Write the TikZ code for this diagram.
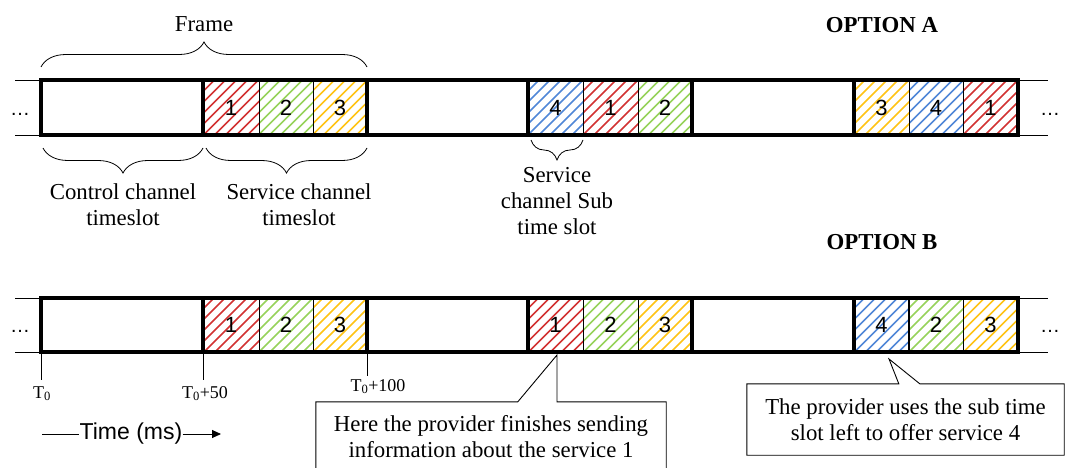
\documentclass[tikz,border=0pt]{standalone}
\usepackage{fontspec}
\setmainfont{Liberation Serif}
\newfontfamily\arialf{Liberation Sans}
\usetikzlibrary{decorations.pathreplacing,calc,arrows.meta}
\definecolor{hred}{RGB}{210,50,50}
\definecolor{hgreen}{RGB}{150,210,90}
\definecolor{hyellow}{RGB}{255,195,20}
\definecolor{hblue}{RGB}{80,135,215}
\tikzset{
  slotbase/.style={rectangle, draw=black, line width=0.9pt, inner sep=0pt, outer sep=0pt, anchor=west, font=\arialf\fontsize{22}{22}\selectfont},
  rowa/.style={minimum height=55pt},
  rowb/.style={minimum height=54pt},
  hatch/.style={path picture={\foreach \k in {-7,...,7}{\draw[#1,line width=1.5pt] ($(path picture bounding box.center)+(\k*11-40,40)$) -- ++(80,-80);}}},
  frameline/.style={line width=3.8pt},
  thinline/.style={line width=0.9pt},
  curly/.style={decorate, decoration={brace, amplitude=#1}, line width=0.8pt},
  lbl/.style={align=center, inner sep=0pt, font=\fontsize{22.8}{26}\selectfont},
  tlbl/.style={anchor=base, inner sep=0pt, font=\fontsize{18}{20}\selectfont},
  opt/.style={anchor=base, inner sep=0pt, font=\bfseries\fontsize{22.8}{26}\selectfont},
  dotsl/.style={inner sep=0pt, font=\arialf\fontsize{20}{20}\selectfont},
}
\begin{document}
\begin{tikzpicture}[x=1pt,y=-1pt]
\useasboundingbox (0,0) rectangle (1065,468);
\clip (0,0) rectangle (1065,468);

% ---------- Row A ----------
\node[slotbase,rowa,minimum width=162pt] (ac1) at (41,107.5) {};
\node[slotbase,rowa,minimum width=56pt,hatch=hred] (as1) at (203,107.5) {1};
\node[slotbase,rowa,minimum width=54pt,hatch=hgreen] (as2) at (259,107.5) {2};
\node[slotbase,rowa,minimum width=54pt,hatch=hyellow] (as3) at (313,107.5) {3};
\node[slotbase,rowa,minimum width=161pt] (ac2) at (367,107.5) {};
\node[slotbase,rowa,minimum width=55pt,hatch=hblue] (as4) at (528,107.5) {4};
\node[slotbase,rowa,minimum width=55pt,hatch=hred] (as5) at (583,107.5) {1};
\node[slotbase,rowa,minimum width=54pt,hatch=hgreen] (as6) at (638,107.5) {2};
\node[slotbase,rowa,minimum width=162pt] (ac3) at (692,107.5) {};
\node[slotbase,rowa,minimum width=55pt,hatch=hyellow] (as7) at (854,107.5) {3};
\node[slotbase,rowa,minimum width=54pt,hatch=hblue] (as8) at (909,107.5) {4};
\node[slotbase,rowa,minimum width=55pt,hatch=hred] (as9) at (963,107.5) {1};

\draw[frameline] (ac1.north west) rectangle (as9.south east);
\foreach \n in {ac1,ac2,ac3} {\draw[frameline] (\n.north east) -- (\n.south east);}
\foreach \n in {ac2,ac3} {\draw[frameline] (\n.north west) -- (\n.south west);}
\draw[thinline] (ac1.north west) -- ++(-26,0);
\draw[thinline] (ac1.south west) -- ++(-26,0);
\draw[thinline] (as9.north east) -- ++(30,0);
\draw[thinline] (as9.south east) -- ++(30,0);
\node[dotsl] (dotsA1) at (20,114) {\dots};
\node[dotsl] (dotsA2) at (1050,114) {\dots};

% ---------- Row B ----------
\node[slotbase,rowb,minimum width=162pt] (bc1) at (41,325) {};
\node[slotbase,rowb,minimum width=56pt,hatch=hred] (bs1) at (203,325) {1};
\node[slotbase,rowb,minimum width=54pt,hatch=hgreen] (bs2) at (259,325) {2};
\node[slotbase,rowb,minimum width=54pt,hatch=hyellow] (bs3) at (313,325) {3};
\node[slotbase,rowb,minimum width=161pt] (bc2) at (367,325) {};
\node[slotbase,rowb,minimum width=55pt,hatch=hred] (bs4) at (528,325) {1};
\node[slotbase,rowb,minimum width=55pt,hatch=hgreen] (bs5) at (583,325) {2};
\node[slotbase,rowb,minimum width=54pt,hatch=hyellow] (bs6) at (638,325) {3};
\node[slotbase,rowb,minimum width=162pt] (bc3) at (692,325) {};
\node[slotbase,rowb,minimum width=55pt,hatch=hblue,line width=2pt] (bs7) at (854,325) {4};
\node[slotbase,rowb,minimum width=54pt,hatch=hgreen] (bs8) at (909,325) {2};
\node[slotbase,rowb,minimum width=55pt,hatch=hyellow] (bs9) at (963,325) {3};

\draw[frameline] (bc1.north west) rectangle (bs9.south east);
\foreach \n in {bc1,bc2,bc3} {\draw[frameline] (\n.north east) -- (\n.south east);}
\foreach \n in {bc2,bc3} {\draw[frameline] (\n.north west) -- (\n.south west);}
\draw[thinline] (bc1.north west) -- ++(-26,0);
\draw[thinline] (bc1.south west) -- ++(-26,0);
\draw[thinline] (bs9.north east) -- ++(30,0);
\draw[thinline] (bs9.south east) -- ++(30,0);
\node[dotsl] (dotsB1) at (20,331) {\dots};
\node[dotsl] (dotsB2) at (1050,331) {\dots};

% ---------- Braces and labels ----------
\draw[curly=25pt] ([yshift=13pt]ac1.north west) -- ([yshift=13pt]as3.north east);
\node[lbl,anchor=base] (frame) at (204,32) {Frame};
\draw[curly=25pt] ([yshift=-13pt]as1.south west) -- ([yshift=-13pt,xshift=2pt]ac1.south west);
\draw[curly=25pt] ([yshift=-13pt]as3.south east) -- ([yshift=-13pt,xshift=3pt]as1.south west);
\node[lbl] (ctrl) at (123,205) {Control channel\\timeslot};
\node[lbl] (serv) at (299,205) {Service channel\\timeslot};
\draw[curly=20pt] ([yshift=-5pt]as4.south east) -- ([yshift=-5pt,xshift=3pt]as4.south west);
\node[lbl] (sub) at (557,201) {Service\\channel Sub\\time slot};

\node[opt] (optA) at (882,33) {OPTION A};
\node[opt] (optB) at (882,249) {OPTION B};

% ---------- Time ticks ----------
\coordinate (k0) at (41,380);
\coordinate (k50) at (203,380);
\coordinate (k100) at (367,376);
\draw[thinline] (bc1.south west) -- (k0);
\draw[thinline] (bc1.south east) -- (k50);
\draw[thinline] (bc2.south west) -- (k100);
\node[tlbl] (t0) at (42,398) {T\textsubscript{0}};
\node[tlbl] (t50) at (205,398) {T\textsubscript{0}+50};
\node[tlbl] (t100) at (378,391) {T\textsubscript{0}+100};

\node[inner sep=0pt, font=\arialf\fontsize{23}{23}\selectfont] (time) at (131,434) {Time (ms)};
\coordinate (tstart) at (42,434);
\coordinate (tend) at (221,434);
\draw[thinline] (tstart) -- (time.west);
\draw[thinline,-{Triangle[length=9pt,width=8pt]}] (time.east) -- (tend);

% ---------- Callouts ----------
\node[lbl, minimum width=350pt, minimum height=70pt] (note1) at (491,437) {Here the provider finishes sending\\information about the service 1};
\coordinate (tip1) at (557,355);
\draw[thinline] (note1.north west) -- ($(note1.north west)+(202,0)$) -- (tip1) -- (tip1 |- note1.north) -- (note1.north east) -- (note1.south east) -- (note1.south west) -- cycle;

\node[lbl, minimum width=317pt, minimum height=71pt] (note2) at (905.5,419.5) {The provider uses the sub time\\slot left to offer service 4};
\coordinate (tip2) at (889,359);
\draw[thinline] (note2.north west) -- ($(note2.north west)+(152,0)$) -- (tip2) -- ($(note2.north west)+(173,0)$) -- (note2.north east) -- (note2.south east) -- (note2.south west) -- cycle;
\end{tikzpicture}
\end{document}
